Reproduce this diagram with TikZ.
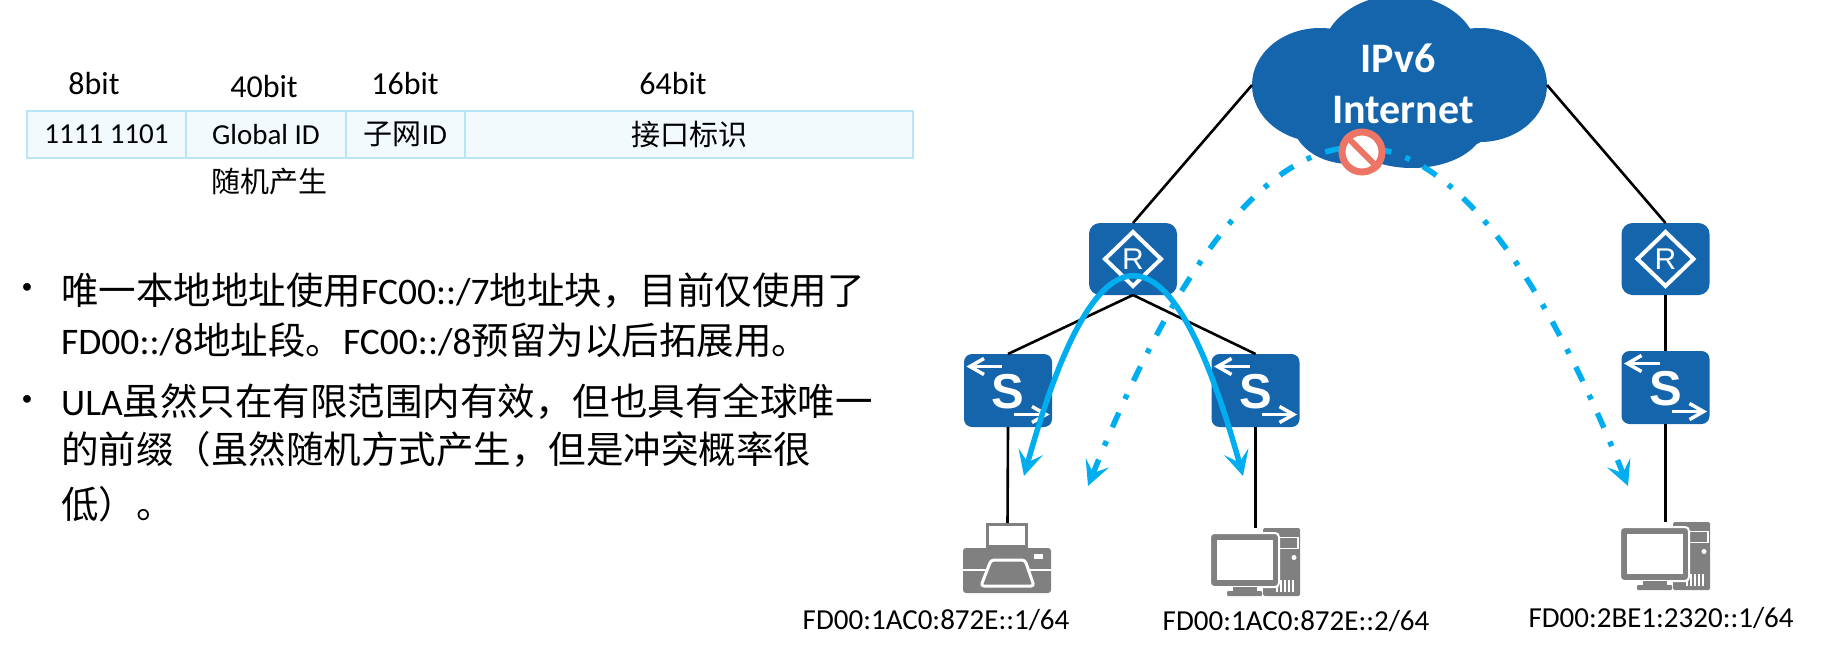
\documentclass[tikz,border=0pt]{standalone}
\usepackage{fontspec}
\setmainfont{Carlito}
\newfontfamily\cjk{Noto Sans CJK SC}
\newfontfamily\iconfont{Liberation Sans}
\usetikzlibrary{positioning,arrows.meta}
\definecolor{netblue}{HTML}{1565AD}
\definecolor{flowblue}{HTML}{00AEEF}
\definecolor{stopred}{HTML}{EC7565}
\definecolor{cellfill}{HTML}{F2FAFE}
\definecolor{cellline}{HTML}{B8E6F7}
\definecolor{hostgray}{HTML}{808080}
\newcommand{\zh}[1]{{\cjk #1}}
\newcommand{\sz}[1]{\fontsize{#1}{#1}\selectfont}
\tikzset{
  cell/.style={draw=cellline,fill=cellfill,line width=2pt,minimum height=47pt,inner sep=0pt,outer sep=0pt,font=\sz{29}},
  bitlabel/.style={font=\sz{32}},
  bodytext/.style={anchor=base west,inner sep=0pt,font=\sz{37.5}},
  dotmark/.style={anchor=center,inner sep=0pt,font=\sz{22}},
  routerbox/.style={fill=netblue,rounded corners=11pt,minimum width=88pt,minimum height=72pt,inner sep=0pt,outer sep=0pt},
  switchbox/.style={fill=netblue,rounded corners=8pt,minimum width=88pt,minimum height=73pt,inner sep=0pt,outer sep=0pt},
  hostbox/.style={minimum width=89pt,minimum height=68pt,inner sep=0pt,outer sep=0pt},
  addr/.style={inner sep=0pt,font=\sz{29}},
  wire/.style={line width=2.6pt,black},
  flow/.style={line width=5.5pt,flowblue,{Stealth[length=25pt,width=25pt,inset=11pt]}-{Stealth[length=25pt,width=25pt,inset=11pt]}},
  routermark/.pic={
    \draw[white,line width=4pt,miter limit=10] (-28,0) -- (0,-27) -- (28,0) -- (0,27) -- cycle;
    \node[white,inner sep=0pt,font=\iconfont\sz{30}] at (0,0) {R};
  },
  switchmark/.pic={
    \draw[white,line width=3.5pt] (-6,-24) -- (-37,-24);
    \draw[white,line width=3.5pt] (-24,-32) -- (-38,-24) -- (-24,-16);
    \draw[white,line width=3.5pt] (6,24) -- (37,24);
    \draw[white,line width=3.5pt] (24,16) -- (38,24) -- (24,32);
    \node[white,inner sep=0pt,font=\iconfont\bfseries\sz{49}] at (0,1) {S};
  },
  printermark/.pic={
    % paper and body, origin is the top left corner
    \draw[hostgray,line width=3pt,fill=white] (24.5,1.5) rectangle (63.5,23);
    \fill[hostgray,rounded corners=3pt] (0,25) rectangle (88,70);
    \draw[white,line width=2pt] (0,47) -- (88,47);
    \draw[white,line width=3pt,fill=hostgray,rounded corners=3pt] (28,37) -- (62,37) -- (71,63) -- (18,63) -- cycle;
    \fill[white] (71,31) rectangle (80,36);
  },
  pcmark/.pic={
    % tower first, then the screen in front of it
    \fill[hostgray,rounded corners=1.5pt] (52,0) rectangle (89,68);
    \draw[white,line width=1.2pt] (68,9.5) rectangle (87,20.5);
    \fill[white] (83,29.5) circle (2.5pt);
    \foreach \i in {66,70,74,78,82}
      \draw[white,line width=1.2pt] (\i,52) -- (\i,64);
    \draw[white,line width=2pt,fill=hostgray,rounded corners=4pt] (-1,5) rectangle (68,59);
    \fill[white] (6,12) rectangle (62,52);
    \fill[hostgray] (22,59) rectangle (46,63);
    \fill[hostgray,rounded corners=1pt] (16,63) rectangle (51,68);
  }
}
\begin{document}
\begin{tikzpicture}[x=1pt,y=-1pt]
    \useasboundingbox (0,0) rectangle (1835,656);

    % Address format table
    \node[cell,minimum width=159pt,anchor=north west] (cellprefix) at (27,111) {1111 1101};
    \node[cell,minimum width=160pt,right=0pt of cellprefix] (cellglobal) {Global ID};
    \node[cell,minimum width=119pt,right=0pt of cellglobal] (cellsubnet) {\zh{子网}ID};
    \node[cell,minimum width=448pt,right=0pt of cellsubnet] (cellif) {\zh{接口标识}};
    \node[bitlabel] (bitprefix) at (94,84) {8bit};
    \node[bitlabel] (bitglobal) at (264,87) {40bit};
    \node[bitlabel] (bitsubnet) at (405,84) {16bit};
    \node[bitlabel] (bitif) at (673,84) {64bit};
    \node[font=\sz{29}] (randomnote) at (269,182) {\zh{随机产生}};

    % Bullet text
    \node[dotmark] (dotone) at (27,288) {•};
    \node[bodytext] (lineone) at (61,304) {\zh{唯一本地地址使用}FC00::/7\zh{地址块，目前仅使用了}};
    \node[bodytext] (linetwo) at (61,354) {FD00::/8\zh{地址段。}FC00::/8\zh{预留为以后拓展用。}};
    \node[dotmark] (dottwo) at (27,400) {•};
    \node[bodytext] (linethree) at (61,415) {ULA\zh{虽然只在有限范围内有效，但也具有全球唯一}};
    \node[bodytext] (linefour) at (61,463) {\zh{的前缀（虽然随机方式产生，但是冲突概率很}};
    \node[bodytext] (linefive) at (61,518) {\zh{低）。}};

    % Cloud
    \fill[netblue] (1400,55) ellipse (78 and 60);
    \fill[netblue] (1320,85) ellipse (68 and 57);
    \fill[netblue] (1480,85) ellipse (67 and 57);
    \fill[netblue] (1350,122) ellipse (57 and 42);
    \fill[netblue] (1412,125) ellipse (72 and 43);
    \fill[netblue] (1450,112) ellipse (50 and 38);
    \node[minimum width=295pt,minimum height=168pt,inner sep=0pt,outer sep=0pt] (cloud) at (1399.5,85) {};
    \node[white,inner sep=0pt,font=\bfseries\sz{42}] (cloudone) at (1398,58) {IPv6};
    \node[white,inner sep=0pt,font=\bfseries\sz{42}] (cloudtwo) at (1403,110) {Internet};

    % Routers and switches
    \node[routerbox] (routerL) at (1133,259) {};
    \node[routerbox] (routerR) at (1665.5,259) {};
    \node[switchbox] (switchA) at (1008,390.5) {};
    \node[switchbox] (switchB) at (1255.5,390.5) {};
    \node[switchbox] (switchC) at (1665.5,387.5) {};
    \foreach \r in {routerL,routerR}
      \pic at (\r) {routermark};
    \foreach \s in {switchA,switchB,switchC}
      \pic at (\s) {switchmark};

    % Hosts
    \node[hostbox,minimum height=70pt] (printer) at (1007.5,558) {};
    \node[hostbox] (pcB) at (1255.5,562) {};
    \node[hostbox] (pcC) at (1665.5,556) {};
    \pic at (printer.north west) {printermark};
    \pic at (pcB.north west) {pcmark};
    \pic at (pcC.north west) {pcmark};
    \node[addr] (addrA) at (936,620) {FD00:1AC0:872E::1/64};
    \node[addr] (addrB) at (1296,621) {FD00:1AC0:872E::2/64};
    \node[addr] (addrC) at (1661,618) {FD00:2BE1:2320::1/64};

    % Links
    \draw[wire] (cloud.west) -- (routerL.north);
    \draw[wire] (cloud.east) -- (routerR.north);
    \draw[wire] (routerL.south) -- (switchA.north);
    \draw[wire] (routerL.south) -- (switchB.north);
    \draw[wire] (routerR.south) -- (switchC.north);
    \draw[wire] (switchA.south) -- (printer.north);
    \draw[wire] (switchB.south) -- (pcB.north);
    \draw[wire] (switchC.south) -- (pcC.north);

    % Traffic arcs
    \coordinate (localL) at (1024,476);
    \coordinate (localR) at (1243,476);
    \coordinate (globalL) at (1088,486);
    \coordinate (globalR) at (1628,486);
    \draw[flow] (localL) .. controls (1097,213) and (1170,213) .. (localR);
    \draw[flow,dash pattern=on 16pt off 15pt on 5pt off 15pt] (globalL) .. controls (1268,38) and (1448,38) .. (globalR);

    % Blocked mark
    \node[circle,draw=stopred,fill=white,line width=7pt,minimum size=40pt,inner sep=0pt] (blocked) at (1362,152) {};
    \draw[stopred,line width=6pt] (blocked.north west) -- (blocked.south east);
\end{tikzpicture}
\end{document}
